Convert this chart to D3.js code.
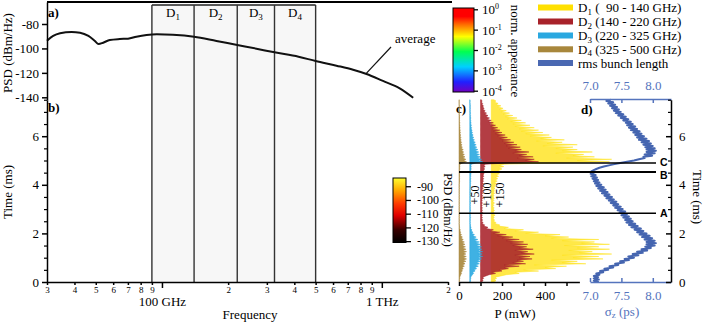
<!DOCTYPE html>
<html><head><meta charset="utf-8">
<script src="https://cdn.jsdelivr.net/npm/d3@7"></script>
<style>
body{margin:0;background:#fff}
svg{font-family:'Liberation Serif','Times New Roman',serif}
</style></head><body>
<svg id="c" width="706" height="322"></svg>
<script>
// ---------------- data ----------------
const avgFreqGHz = [30,32,34.4,38.8,42.4,46.3,49.4,51.5,54,57.9,64.3,70.1,76.5,85.1,94.7,112,140,177,220,269,325,418,500,622,740,852,1012,1206,1389];
const avgPSD = [-93.7,-89.8,-87.6,-86.5,-87.1,-89.8,-93.7,-96.4,-95.3,-93.1,-92.3,-92.0,-90.4,-89.0,-88.4,-88.8,-90.4,-93.9,-97.2,-100.2,-103.2,-106.8,-110.3,-114.1,-117.4,-120.9,-126.6,-132.6,-140.3];
const bandEdgesGHz = [90,140,220,325,500];
const bandIdx = ["1","2","3","4"];
const legendRanges = ["(  90 - 140 GHz)","(140 - 220 GHz)","(220 - 325 GHz)","(325 - 500 GHz)"];
const legendColors = ["#ffe000","#a8222a","#2aa8e0","#a8873c","#4a68b2"];
const psdTicks = [-80,-100,-120,-140];
const timeTicks = [0,2,4,6];
const timeMinorTicks = [0.5,1,1.5,2.5,3,3.5,4.5,5,5.5,6.5,7,7.5];
const freqMinor = [30,40,50,60,70,80,90,200,300,400,500,600,700,800,900,2000];
const freqMinorLabels = ["3","4","5","6","7","8","9","2","3","4","5","6","7","8","9","2"];
const freqMajor = [100,1000];
const freqMajorLabels = ["100 GHz","1 THz"];
const normExp = [0,-1,-2,-3,-4];
const hotTicks = [-90,-100,-110,-120,-130];
const powerTicks = [0,100,200,300,400,500];
const sigmaTicks = [7.0,7.5,8.0];
const offsets = [150,100,50,0];           // D1..D4 offsets (mW)
const offsetLabels = ["+50","+100","+150"];
const markerTimes = [2.83,4.53,4.90];
const markerLabels = ["A","B","C"];
// sampling grid: 0 .. 7.5 ms every 0.05 ms
const timeMs = d3.range(151).map(i => i/20);
const pD1 = [12,22,15,25,18,45,70,130,110,220,
 150,300,250,350,200,440,330,400,280,520,
 380,500,330,560,410,470,360,550,400,500,
 340,550,420,480,330,500,280,360,250,320,
 160,220,110,150,60,80,35,40,18,22,
 10,16,8,14,9,18,8,13,10,15,
 8,14,7,12,8,15,7,12,9,14,
 8,13,9,16,10,15,11,18,12,20,
 14,24,16,28,18,30,20,34,22,38,
 26,45,30,50,34,58,38,62,300,550,
 400,560,350,480,380,430,300,470,330,400,
 300,380,240,400,260,330,210,340,230,280,
 180,270,160,240,140,220,130,200,110,180,
 100,160,90,140,75,120,65,100,55,85,
 45,70,38,55,30,45,22,32,15,22,
 12];
const pD2 = [5,12,8,15,10,25,40,70,55,100,
 90,130,110,180,110,210,150,200,170,240,
 180,230,160,250,190,220,160,245,180,215,
 150,220,140,200,120,180,100,150,80,120,
 60,90,45,60,25,35,15,20,8,12,
 5,10,5,9,5,8,5,10,6,9,
 5,9,5,8,5,9,5,8,6,10,
 6,10,6,11,7,12,7,12,8,13,
 8,13,9,14,10,15,10,16,11,17,
 12,18,13,20,14,22,15,24,130,270,
 210,250,170,245,180,215,150,225,160,190,
 130,185,120,170,110,155,100,140,90,125,
 80,115,70,100,60,90,55,80,48,70,
 40,60,35,50,30,42,25,35,20,28,
 16,22,12,17,10,14,7,10,5,7,
 4];
const pD3 = [2,4,3,5,4,8,12,18,14,25,
 20,32,24,40,28,45,32,50,35,55,
 38,60,40,58,36,60,38,56,35,55,
 30,50,28,45,22,38,18,30,14,22,
 10,15,7,10,4,6,3,4,2,3,
 2,3,2,4,2,3,2,3,2,4,
 2,3,2,3,2,4,2,3,2,3,
 2,4,2,3,2,4,2,3,3,4,
 3,4,3,5,3,5,3,5,4,6,
 4,6,4,7,5,7,5,8,30,60,
 40,55,35,50,30,45,28,42,25,38,
 22,33,20,30,18,26,15,22,12,19,
 10,16,9,13,8,11,6,9,5,8,
 4,6,4,5,3,5,3,4,2,4,
 2,3,2,3,2,3,2,2,1,2,
 1];
const pD4 = [1,3,2,4,3,6,8,12,9,16,
 12,20,14,25,16,28,18,32,20,35,
 20,34,18,32,20,35,18,33,17,30,
 15,28,14,25,12,20,10,16,7,12,
 5,8,4,6,2,3,2,2,1,2,
 1,2,1,2,1,2,1,2,1,2,
 1,2,1,2,1,2,1,2,1,2,
 1,2,1,2,1,2,1,2,1,2,
 1,2,2,3,2,3,2,3,2,3,
 2,3,2,4,3,4,3,5,18,35,
 22,32,18,28,16,25,14,22,12,20,
 10,16,9,14,8,12,7,10,6,9,
 5,8,4,7,4,6,3,5,3,4,
 2,4,2,3,2,3,2,3,1,2,
 1,2,1,2,1,2,1,1,1,1,
 1];
const sigmaPs = [7.14,7.06,7.14,7.06,7.13,7.06,7.15,7.10,7.21,7.16,
 7.29,7.23,7.37,7.31,7.45,7.40,7.54,7.48,7.62,7.55,
 7.70,7.61,7.77,7.68,7.84,7.75,7.91,7.82,7.97,7.88,
 8.03,7.90,8.05,7.90,8.03,7.87,7.99,7.83,7.95,7.79,
 7.90,7.75,7.85,7.71,7.81,7.66,7.76,7.62,7.72,7.58,
 7.68,7.56,7.65,7.53,7.62,7.50,7.59,7.47,7.56,7.44,
 7.52,7.40,7.49,7.37,7.45,7.33,7.42,7.30,7.38,7.26,
 7.35,7.23,7.31,7.19,7.28,7.16,7.25,7.13,7.22,7.10,
 7.18,7.08,7.15,7.06,7.13,7.04,7.11,7.02,7.09,7.01,
 7.06,7.02,7.06,7.10,7.15,7.22,7.30,7.39,7.48,7.59,
 7.70,7.78,7.87,7.85,7.99,7.87,8.03,7.90,8.05,7.90,
 8.03,7.88,8.00,7.85,7.97,7.82,7.94,7.78,7.90,7.75,
 7.86,7.72,7.82,7.69,7.79,7.65,7.75,7.62,7.72,7.59,
 7.68,7.57,7.65,7.53,7.61,7.49,7.57,7.45,7.53,7.41,
 7.49,7.38,7.46,7.35,7.43,7.32,7.40,7.29,7.37,7.26,
 7.33];

// ---------------- setup ----------------
const svg = d3.select("#c");
const SERIF = "'Liberation Serif','Times New Roman',serif";
const SANS = "'Liberation Sans',Arial,sans-serif";
const xF = d3.scaleLog().domain([30,2000]).range([47,448]);
const yA = d3.scaleLinear().domain([-142,-62]).range([99.75,2]);
const yT = d3.scaleLinear().domain([0,7.5]).range([282,99.75]);
const xP = d3.scaleLinear().domain([0,560]).range([459,579.4]);
const xS = d3.scaleLinear().domain([7.0,8.29]).range([590,671]);
const yN = d3.scaleLog().domain([1e-4,1]).range([90.7,9.3]);
const yH = d3.scaleLinear().domain([-131,-84]).range([242.5,178]);

function styleAxis(g, color, fs, sw){
  g.attr("font-family", SERIF).attr("font-size", fs);
  g.selectAll("path,line").attr("stroke", color).attr("stroke-width", sw||1.3);
  g.selectAll("text").attr("fill", color);
  return g;
}
function txt(x, y, s, fs){
  return svg.append("text").attr("x", x).attr("y", y).attr("font-size", fs).attr("font-family", SERIF).text(s);
}

const defs = svg.append("defs");

// ---------- detector boxes ----------
svg.append("rect").attr("x", xF(bandEdgesGHz[0])).attr("y", 5)
  .attr("width", xF(bandEdgesGHz[4]) - xF(bandEdgesGHz[0])).attr("height", 282-5)
  .attr("fill", "#f7f7f7");
svg.append("line").attr("x1", xF(bandEdgesGHz[0])).attr("x2", xF(bandEdgesGHz[4]))
  .attr("y1", 5).attr("y2", 5).attr("stroke", "#222").attr("stroke-width", 1.3);
bandEdgesGHz.forEach(f => {
  svg.append("line").attr("x1", xF(f)).attr("x2", xF(f)).attr("y1", 5).attr("y2", 282)
    .attr("stroke", "#333").attr("stroke-width", 1.4);
});
bandIdx.forEach((s, i) => {
  const xm = (xF(bandEdgesGHz[i]) + xF(bandEdgesGHz[i+1]))/2;
  const t = svg.append("text").attr("x", xm).attr("y", 17).attr("text-anchor", "middle")
    .attr("font-size", 13).attr("font-family", SERIF);
  t.append("tspan").text("D");
  t.append("tspan").attr("font-size", 9).attr("dy", 3).text(s);
});

// top frame line
svg.append("line").attr("x1", 47).attr("x2", 452).attr("y1", 2).attr("y2", 2)
  .attr("stroke", "#000").attr("stroke-width", 2);

// ---------- panel a: average ----------
svg.append("path").datum(avgFreqGHz.map((f,i)=>[f, avgPSD[i]]))
  .attr("fill", "none").attr("stroke", "#111").attr("stroke-width", 2)
  .attr("d", d3.line().x(d=>xF(d[0])).y(d=>yA(d[1])).curve(d3.curveMonotoneX));
svg.append("line").attr("x1", xF(852)).attr("y1", yA(-120.2)).attr("x2", 391).attr("y2", 47)
  .attr("stroke", "#111").attr("stroke-width", 1.2);
txt(395, 43, "average", 13);

const gA = svg.append("g").attr("transform", "translate(47,0)")
  .call(d3.axisLeft(yA).tickValues(psdTicks).tickSize(5).tickPadding(3).tickSizeOuter(0).tickFormat(d=>String(d)));
styleAxis(gA, "#000", 13, 1.5);

// ---------- panel b axes ----------
const gB = svg.append("g").attr("transform", "translate(47,0)")
  .call(d3.axisLeft(yT).tickValues(timeTicks).tickSize(5).tickPadding(3).tickSizeOuter(0));
styleAxis(gB, "#000", 13, 1.5);
const gBm = svg.append("g").attr("transform", "translate(47,0)")
  .call(d3.axisLeft(yT).tickValues(timeMinorTicks).tickSize(3).tickFormat(""));
gBm.select(".domain").remove();
styleAxis(gBm, "#000", 13, 1.2);

const gX = svg.append("g").attr("transform", "translate(0,282)")
  .call(d3.axisBottom(xF).tickValues(freqMinor).tickSize(3).tickPadding(2).tickSizeOuter(0)
    .tickFormat((d,i)=>freqMinorLabels[i]));
styleAxis(gX, "#000", 9, 1.5);
const gX2 = svg.append("g").attr("transform", "translate(0,282)")
  .call(d3.axisBottom(xF).tickValues(freqMajor).tickSize(6).tickPadding(9)
    .tickFormat((d,i)=>freqMajorLabels[i]));
gX2.select(".domain").remove();
styleAxis(gX2, "#000", 13, 1.5);

svg.append("text").attr("x", 250).attr("y", 319).attr("text-anchor", "middle")
  .attr("font-size", 13).attr("font-family", SERIF).text("Frequency");
svg.append("text").attr("transform", "translate(12,53) rotate(-90)").attr("text-anchor", "middle")
  .attr("font-size", 13).attr("font-family", SERIF).text("PSD (dBm/Hz)");
svg.append("text").attr("transform", "translate(12,192) rotate(-90)").attr("text-anchor", "middle")
  .attr("font-size", 13).attr("font-family", SERIF).text("Time (ms)");

// panel labels
[["a)",48,17],["b)",48,112],["c)",456,113],["d)",581,114]].forEach(p=>{
  svg.append("text").attr("x", p[1]).attr("y", p[2]).attr("font-size", 13)
    .attr("font-weight", "bold").attr("font-family", SERIF).text(p[0]);
});

// ---------- hot colorbar (panel b) ----------
const gh = defs.append("linearGradient").attr("id", "hot").attr("x1",0).attr("y1",1).attr("x2",0).attr("y2",0);
[[0,"#000000"],[0.2,"#3a0000"],[0.42,"#e00000"],[0.6,"#ff3a00"],[0.8,"#ffa500"],[1,"#ffff30"]]
  .forEach(s=>gh.append("stop").attr("offset", s[0]).attr("stop-color", s[1]));
svg.append("rect").attr("x", 393).attr("y", 178).attr("width", 13).attr("height", 64.5)
  .attr("fill", "url(#hot)").attr("stroke", "#000").attr("stroke-width", 1);
const gH = svg.append("g").attr("transform", "translate(406,0)")
  .call(d3.axisRight(yH).tickValues(hotTicks).tickSize(5).tickPadding(6).tickSizeOuter(0).tickFormat(d=>String(d)));
gH.select(".domain").remove();
styleAxis(gH, "#000", 12, 1.3);
svg.append("text").attr("transform", "translate(443.5,210) rotate(90)").attr("text-anchor", "middle")
  .attr("font-size", 12).attr("font-family", SERIF).text("PSD (dBm/Hz)");

// ---------- norm appearance colorbar ----------
const gj = defs.append("linearGradient").attr("id", "jet").attr("x1",0).attr("y1",1).attr("x2",0).attr("y2",0);
[[0,"#7000c0"],[0.12,"#2020ff"],[0.3,"#00d0ff"],[0.48,"#00ff50"],[0.66,"#ffff00"],[0.8,"#ff7000"],[0.9,"#ff0000"],[1,"#ff0000"]]
  .forEach(s=>gj.append("stop").attr("offset", s[0]).attr("stop-color", s[1]));
svg.append("rect").attr("x", 453).attr("y", 8).attr("width", 21).attr("height", 84)
  .attr("fill", "url(#jet)").attr("stroke", "#000").attr("stroke-width", 1);
const gN = svg.append("g").attr("transform", "translate(474,0)")
  .call(d3.axisRight(yN).tickValues(normExp.map(e=>Math.pow(10,e))).tickSize(4).tickSizeOuter(0).tickFormat(""));
gN.select(".domain").remove();
styleAxis(gN, "#000", 13, 1.3);
gN.selectAll(".tick").each(function(d, i){
  const t = d3.select(this).append("text").attr("x", 8).attr("dy", "0.35em")
    .attr("font-size", 13).attr("font-family", SERIF).attr("fill", "#000");
  t.append("tspan").text("10");
  t.append("tspan").attr("font-size", 8).attr("dy", -5).text(String(normExp[i]));
});
svg.append("text").attr("transform", "translate(511,51) rotate(90)").attr("text-anchor", "middle")
  .attr("font-size", 13).attr("font-family", SERIF).text("norm. appearance");

// ---------- legend ----------
const legY = [7.5, 21.5, 35.5, 49.3, 63];
legendColors.forEach((c, i) => {
  svg.append("rect").attr("x", 538).attr("y", legY[i]-3).attr("width", 35).attr("height", 6).attr("fill", c);
  const t = svg.append("text").attr("x", 578).attr("y", legY[i]+4.5).attr("font-size", 13)
    .attr("font-family", SERIF).style("white-space", "pre");
  if (i < 4) {
    t.append("tspan").text("D");
    t.append("tspan").attr("font-size", 9).attr("dy", 2.5).text(bandIdx[i]);
    t.append("tspan").attr("dy", -2.5).text(" " + legendRanges[i]);
  } else {
    t.text("rms bunch length");
  }
});

// ---------- panel c: detector powers ----------
const series = [pD1, pD2, pD3, pD4];
const sFill = ["#ffe21a","#a8222a","#2aa8e0","#a8873c"];
const sOpac = [0.8, 0.88, 0.9, 0.9];
series.forEach((arr, k) => {
  const area = d3.area()
    .y((d,i)=>yT(timeMs[i]))
    .x0(()=>xP(offsets[k]))
    .x1((d)=>xP(offsets[k] + d));
  svg.append("path").datum(arr).attr("d", area)
    .attr("fill", sFill[k]).attr("fill-opacity", sOpac[k])
    .attr("stroke", sFill[k]).attr("stroke-width", 0.5);
});
offsetLabels.forEach((s, i) => {
  const xs = [478.5, 491, 504];
  svg.append("text").attr("transform", `translate(${xs[i]},195) rotate(-90)`).attr("text-anchor", "middle")
    .attr("font-size", 12).attr("font-family", SERIF).text(s);
});
const gC = svg.append("g").attr("transform", "translate(0,282)")
  .call(d3.axisBottom(xP).tickValues(powerTicks).tickSize(4).tickPadding(5).tickSizeOuter(0)
    .tickFormat(d => d % 200 === 0 ? String(d) : ""));
styleAxis(gC, "#000", 13, 1.5);
svg.append("text").attr("x", 515).attr("y", 318).attr("text-anchor", "middle")
  .attr("font-size", 13).attr("font-family", SERIF).text("P (mW)");

// ---------- panel d: bunch length ----------
svg.append("path").datum(sigmaPs)
  .attr("fill", "none").attr("stroke", "#4565b0").attr("stroke-width", 2).attr("stroke-linejoin", "round")
  .attr("d", d3.line().x(d=>xS(d)).y((d,i)=>yT(timeMs[i])));
const blue = "#5574bd";
const gDb = svg.append("g").attr("transform", "translate(0,282)")
  .call(d3.axisBottom(xS).tickValues(sigmaTicks).tickSizeInner(-4).tickSizeOuter(0).tickPadding(9).tickFormat(d3.format(".1f")));
styleAxis(gDb, blue, 13, 1.5);
const gDt = svg.append("g").attr("transform", "translate(0,99)")
  .call(d3.axisTop(xS).tickValues(sigmaTicks).tickSizeInner(-4).tickSizeOuter(0).tickPadding(9).tickFormat(d3.format(".1f")));
styleAxis(gDt, blue, 13, 1.5);
const gDr = svg.append("g").attr("transform", "translate(671,0)")
  .call(d3.axisRight(yT).tickValues(timeTicks).tickSizeInner(-5).tickSizeOuter(0).tickPadding(8));
styleAxis(gDr, "#000", 13, 1.5);
const gDrm = svg.append("g").attr("transform", "translate(671,0)")
  .call(d3.axisRight(yT).tickValues(timeMinorTicks).tickSizeInner(-3).tickFormat(""));
gDrm.select(".domain").remove();
styleAxis(gDrm, "#000", 13, 1.2);
const sl = svg.append("text").attr("x", 622).attr("y", 316).attr("text-anchor", "middle")
  .attr("font-size", 13).attr("font-family", SERIF).attr("fill", blue);
sl.append("tspan").text("σ");
sl.append("tspan").attr("font-size", 9).attr("dy", 2).text("z");
sl.append("tspan").attr("dy", -2).text(" (ps)");
svg.append("text").attr("transform", "translate(693,197) rotate(90)").attr("text-anchor", "middle")
  .attr("font-size", 13).attr("font-family", SERIF).text("Time (ms)");

// ---------- marker lines A, B, C ----------
const markerLabelDy = [4.2, 7.5, 3.2];
markerTimes.forEach((t, i) => {
  svg.append("line").attr("x1", xP(0)).attr("x2", 656).attr("y1", yT(t)).attr("y2", yT(t))
    .attr("stroke", "#000").attr("stroke-width", i===1 ? 2 : 1.6);
  svg.append("text").attr("x", 660).attr("y", yT(t)+markerLabelDy[i]).attr("font-size", 10.5).attr("font-weight", "bold")
    .attr("font-family", SANS).text(markerLabels[i]);
});
</script>
</body></html>
